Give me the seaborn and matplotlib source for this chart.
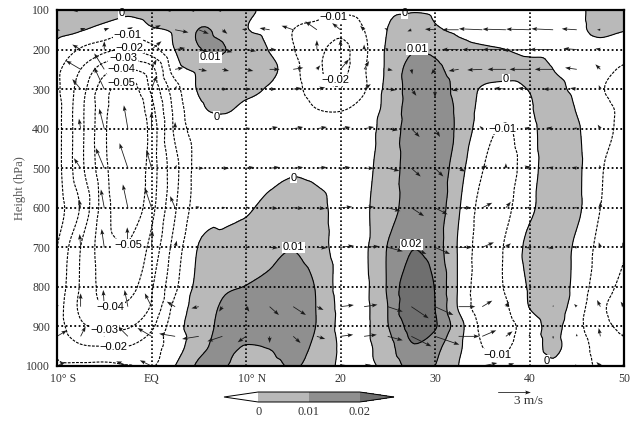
import numpy as np
import matplotlib
matplotlib.use("Agg")
import matplotlib.pyplot as plt
import matplotlib.tri as mtri
from matplotlib.transforms import ScaledTranslation
import seaborn as sns

LATS = [-10, -7.5, -5, -2.5, 0, 2.5, 5, 7.5, 10, 12.5, 15, 17.5, 20, 22.5, 25,
        27.5, 30, 32.5, 35, 37.5, 40, 42.5, 45, 47.5, 50]

# shaded field, in thousandths
FIELD_LEVELS = [100, 150, 200, 250, 300, 350, 400, 500, 600, 700, 800, 850, 900, 950, 1000]
F100 = [4, 4, 4, 3, 5, 4, 4, 3, 1, -1, -3, -6, -8, -6, -1, -0.7, -1.5, -3, -4, -4, -3, -2.5, -1, 1.5, 2]
F150 = [1.5, 0.6, -3, -7, -1.3, 1.5, 10.2, 8, 0.5, -2, -10, -13, -17, -10, 0.2, 5, 1, -1.5, -3, -3, -3, -3, -1, 1, 0.2]
F200 = [-2.5, -11, -17, -21, -14, 0.3, 9.5, 10.5, 5, -0.5, -9.5, -17, -23, -12, 1.5, 9, 8, 3, 1, 0, -2, -2, -2, -2, -3]
F250 = [-8, -20, -36, -40, -33, -5, 2, 7, 6, 3, -7, -18, -23, -11, 2, 13, 12, 6, 5, 4, 3, 0, -2, -6, -12]
F300 = [-8, -25, -46, -55, -38, -14, 1, 3, 2, -1, -6, -16, -19, -11, 3, 13, 15, 7, -1, -3, 0.3, 1.5, -2, -9, -14]
F350 = [-6, -27, -47, -62, -43, -17, -2, 1, -1.5, -2, -3, -10, -11, -6, 3, 14, 16, 8, -3, -7, -1, 5, -0.5, -7, -12]
F400 = [-6, -27, -48, -64, -46, -18, -5, -3, -3, -3, -2.5, -2.5, -3, -2, 3, 15, 16, 8, -5, -11, -3, 5, 1, -7, -12]
F500 = [-6, -27, -47, -62, -45, -23, -6, -3, -2.5, -2, -0.8, -1.5, -2, -1.5, 4, 15, 17, 4, -9.5, -14, -4, 5, 2, -9, -14]
F600 = [-5, -21, -45, -58, -43, -21, -5, -2.5, -1, 2, 4, 2, -2, -1, 5, 15, 16, 1, -13, -12, -2, 4, 2, -10, -16]
F700 = [-10, -30, -45, -49, -37, -16, 0.5, 2.5, 4, 7, 9.5, 4, -3, -1.5, 10.5, 19.5, 15, -1, -14, -9, 3, 6, -2, -13, -19]
F800 = [-13, -31, -43, -44, -31, -12, 3, 8.5, 10.3, 13, 17, 9, -3, -2, 11, 27, 19.5, -1, -15, -9, 1, 5, -3, -16, -22]
F850 = [-15, -32, -40, -38, -29, -7, 4, 11, 16, 18, 19, 9.5, -2, -2, 10, 28, 20, -1, -15, -11, 0.3, 5, -5, -18, -24]
F900 = [-15, -28, -31, -31, -22, -4, 5, 12, 14, 16, 17, 9.5, -2, -2, 9.5, 23, 21, 4, -12, -13, -5, 2.5, -7, -17, -22]
F950 = [-12, -19, -20, -20, -14, -5, 7, 12, 9.7, 10.5, 13, 8, -1, -2, 6, 19, 13, 2, -10, -11, -4, 1.5, -5, -14, -18]
F1000 = [-8, -8, -7.5, -9.5, -11, 0, 11.5, 10.5, 8, 8, 10.5, 7, -1.5, -2, 3, 13, 10, 0, -6, -8, -5, -1, -5, -12, -15]

# wind vectors, 98 units = 3 m/s
WIND_LEVELS = [100, 150, 200, 250, 300, 400, 500, 600, 700, 850, 925, 1000]
U100 = [-5, -25, -8, -5, -10, -30, -30, -20, -5, 0, 0, 0, 0, 0, 0, 0, 0, 0, 0, 0, 0, 0, 0, 0, 0]
W100 = [0, -2, 0, 0, 0, 0, 0, 0, 0, 0, 0, 0, 0, 0, 0, 0, 0, 0, 0, 0, 0, 0, 0, 0, 0]
U150 = [10, 15, 15, 15, 28, 40, 30, 15, -12, -30, -35, -35, -25, -12, -10, -12, -30, -50, -70, -70, -70, -65, -45, -10, 0]
W150 = [-2, 5, 5, 8, 14, -8, -12, -12, 2, 5, 12, 25, 20, 12, 5, -5, 2, 0, 3, 2, 2, 3, 3, 0, 0]
U200 = [0, -25, 0, -8, 30, 30, 30, 30, 30, 20, 10, 0, 0, 0, -8, 5, -5, -50, -60, -70, -80, -70, -40, -15, 0]
W200 = [0, 15, 25, 15, 25, 5, -8, -8, -5, 0, 0, 28, 30, 15, 5, 0, 0, 0, 0, 0, -2, 0, 3, 3, 0]
U250 = [0, -44, -30, -5, 15, 25, 25, 20, 22, 30, 30, 10, 25, 15, 15, 3, -12, -30, -45, -55, -60, -55, -35, -15, 0]
W250 = [0, 26, 48, 8, 30, 5, -5, -5, -5, 0, 5, 12, 30, 25, -3, -15, -15, -5, -2, 0, 0, 0, 5, 15, 0]
U300 = [0, -25, -30, -10, 15, 5, 10, 15, 15, 20, 25, 25, 18, 20, 25, 15, 0, -20, -8, -35, -35, -30, -20, -5, 0]
W300 = [0, 30, 65, 5, 40, 10, 0, 0, 0, 0, 3, 5, 28, 15, -3, -20, -25, -5, 0, 3, 3, 0, 3, 12, 0]
U400 = [0, -5, -15, -12, 0, 0, -5, -8, 12, 25, 30, 30, 30, 30, 30, 25, 15, 3, -8, -3, -15, -20, -10, -8, 0]
W400 = [0, 30, 60, 70, 50, 20, 0, 0, 2, 5, 5, 5, 5, 5, -5, -25, -25, -5, 8, 0, 3, 3, 2, 12, 0]
U500 = [0, -20, -25, -25, -15, 5, 15, 20, 25, 30, 30, 30, 30, 30, 35, 28, 25, 20, 15, 0, -15, -15, -15, -3, 0]
W500 = [0, 30, 60, 75, 55, 10, 0, 0, 3, 3, 3, 3, 3, 0, -8, -25, -25, -10, 8, 15, 8, 3, 3, 10, 0]
U600 = [0, -5, -10, -15, -20, -15, -10, 10, 10, 25, 30, 25, 35, 30, 38, 38, 38, 38, 30, 15, -10, -12, -8, 0, 0]
W600 = [0, 25, 55, 70, 60, 35, 5, 0, 2, -2, -2, -3, 3, 3, -10, -25, -20, 0, 15, 18, 0, 0, 0, 18, 0]
U700 = [0, -3, -8, -2, 3, 5, -5, 8, 10, 25, 30, 30, 40, 45, 45, 45, 45, 40, 35, 15, -10, -15, -12, -5, -5]
W700 = [0, 40, 55, 60, 50, 20, 0, 0, 0, -2, -2, -2, 5, 3, -12, -20, -20, 0, 15, 12, -2, -3, 2, 15, 15]
U850 = [5, 0, -3, -10, -20, -25, -22, -10, 10, 28, 38, 20, 40, 40, 45, 52, 55, 50, 30, 10, 0, 0, -8, -10, -10]
W850 = [5, 40, 50, 50, 40, 15, -5, -15, -15, -25, -25, -10, 5, 6, -15, -35, -25, 0, 18, 15, 0, 5, 8, 20, 15]
U925 = [30, 15, 0, -30, -42, -48, -50, -45, -25, 0, 22, 25, 38, 38, 45, 60, 73, 62, 42, 20, 0, 0, 0, -5, -5]
W925 = [18, 30, 30, 30, 25, 8, -8, -15, -18, -20, -20, -8, 5, 5, -12, -30, -25, 0, 18, 15, 8, -8, 8, 25, 8]
U1000 = [25, -10, -5, -35, -35, -10, -5, 0, 0, 0, 0, 0, 15, 20, 0, 0, 0, 0, 45, 25, 0, 0, -5, -12, -5]
W1000 = [12, 0, 0, 14, 17, 0, 0, 0, 0, 0, 0, 0, 3, 4, 0, 0, 0, 0, 9, 8, 0, 0, 5, 12, 5]

# contour labels: lat, level, text
LABEL_LATS = [-2.5, -2.3, -3, -3.2, -3.2, 6.2, -3.2, 6.9, 15, 19.3, 19.5, 26.8, 28.1, 37.5, 37.1,
              -2.5, 15, -4.4, -5, -4, 27.5, 36.6, 41.8]
LABEL_LEVELS = [163, 195, 222, 248, 284, 220, 108, 370, 524, 118, 277, 108, 199, 275, 400,
                693, 700, 850, 909, 951, 692, 972, 987]
LABEL_TEXTS = ["−0.01", "−0.02", "−0.03", "−0.04", "−0.05", "0.01", "0", "0", "0", "−0.01", "−0.02",
               "0", "0.01", "0", "−0.01", "−0.05", "0.01", "−0.04", "−0.03", "−0.02", "0.02",
               "−0.01", "0"]

X_TICKS = [-10, 0, 10, 20, 30, 40, 50]
X_LABELS = ["10° S", "EQ", "10° N", "20", "30", "40", "50"]
Y_TICKS = [100, 200, 300, 400, 500, 600, 700, 800, 900, 1000]

SHADES = ["#ffffff", "#b9b9b9", "#8f8f8f", "#6f6f6f"]
FILL_LEVELS = [0, 0.01, 0.02]
LINE_LEVELS = [-0.05, -0.04, -0.03, -0.02, -0.01, 0, 0.01, 0.02]
W, H = 634, 421

sns.set_theme(style="white")
plt.rcParams["font.family"] = ["Liberation Serif", "DejaVu Serif"]

field = np.array([F100, F150, F200, F250, F300, F350, F400, F500, F600, F700,
                  F800, F850, F900, F950, F1000], dtype=float) / 1000.0
u = np.array([U100, U150, U200, U250, U300, U400, U500, U600, U700, U850, U925, U1000], dtype=float)
v = np.array([W100, W150, W200, W250, W300, W400, W500, W600, W700, W850, W925, W1000], dtype=float)

fig = plt.figure(figsize=(W / 100, H / 100), dpi=100)
ax = fig.add_axes([57 / W, 1 - 366 / H, 567 / W, 356 / H])

# smooth the coarse table a bit with a refined triangulation
lon2d, lev2d = np.meshgrid(LATS, FIELD_LEVELS)
nr, nc = lon2d.shape
tris = []
for r in range(nr - 1):
    for c in range(nc - 1):
        a = r * nc + c
        tris.append([a, a + 1, a + nc])
        tris.append([a + 1, a + nc + 1, a + nc])
tri = mtri.Triangulation(lon2d.ravel(), lev2d.ravel(), tris)
refiner = mtri.UniformTriRefiner(tri)
interp = mtri.CubicTriInterpolator(tri, field.ravel(), kind="geom")
tri_fine, field_fine = refiner.refine_field(field.ravel(), triinterpolator=interp, subdiv=3)

cf = ax.tricontourf(tri_fine, field_fine, levels=FILL_LEVELS, colors=SHADES, extend="both", zorder=1)
cs = ax.tricontour(tri_fine, field_fine, levels=LINE_LEVELS, colors="black", linewidths=0.8, zorder=2)
cs.set_linestyles([(0, (2.5, 1.2)) if lv < 0 else "solid" for lv in LINE_LEVELS])

for x in X_TICKS[1:-1]:
    ax.axvline(x, color="black", lw=1.2, ls=(0, (1, 1.4)), zorder=3)
for y in Y_TICKS[1:-1]:
    ax.axhline(y, color="black", lw=1.3, ls=(0, (1, 1.4)), zorder=3)

lon_w, lev_w = np.meshgrid(LATS, WIND_LEVELS)
q = ax.quiver(lon_w, lev_w, u, v, angles="uv", scale_units="inches", scale=300, units="inches",
              width=0.008, headwidth=5, headlength=7, headaxislength=6, minlength=0,
              pivot="tail", color="#1a1a1a", zorder=4)

for x, y, s in zip(LABEL_LATS, LABEL_LEVELS, LABEL_TEXTS):
    ax.text(x, y, s, ha="center", va="center", fontsize=8, family="Liberation Sans", color="black",
            bbox=dict(facecolor="white", edgecolor="none", pad=0.5), zorder=5)

ax.set_xlim(-10, 50)
ax.set_ylim(1000, 100)
ax.set_xticks(X_TICKS)
ax.set_xticklabels(X_LABELS)
ax.set_yticks(Y_TICKS)
ax.tick_params(length=0, labelsize=8.5, labelcolor="#333333", pad=5)
nudge = ScaledTranslation(6 / 100, 0, fig.dpi_scale_trans)
for lab in (ax.get_xticklabels()[0], ax.get_xticklabels()[2]):
    lab.set_transform(lab.get_transform() + nudge)
for sp in ax.spines.values():
    sp.set_visible(True)
    sp.set_color("black")
    sp.set_linewidth(1.6)
    sp.set_zorder(6)

fig.text(20 / W, 1 - 188 / H, "Height (hPa)", rotation=90, ha="center", va="center",
         fontsize=9, color="#555555")

# the extend tips are drawn inside the colorbar axes
cax = fig.add_axes([224 / W, 1 - 402 / H, 170 / W, 10 / H])
cb = fig.colorbar(cf, cax=cax, orientation="horizontal", extendfrac=0.337, spacing="uniform")
cb.set_ticks(FILL_LEVELS)
cb.set_ticklabels(["0", "0.01", "0.02"])
cb.ax.tick_params(length=0, labelsize=9, labelcolor="#333333", pad=3)
cb.outline.set_linewidth(0.7)
cb.outline.set_edgecolor("black")
cb.dividers.set_color("black")
cb.dividers.set_linewidth(0.7)

ax.quiverkey(q, 513.5 / W, 1 - 392 / H, 98, "", coordinates="figure", labelpos="S")
fig.text(528 / W, 1 - 401 / H, "3 m/s", ha="center", va="center", fontsize=9.5, color="#333333")

fig.savefig("out.png", dpi=100)
